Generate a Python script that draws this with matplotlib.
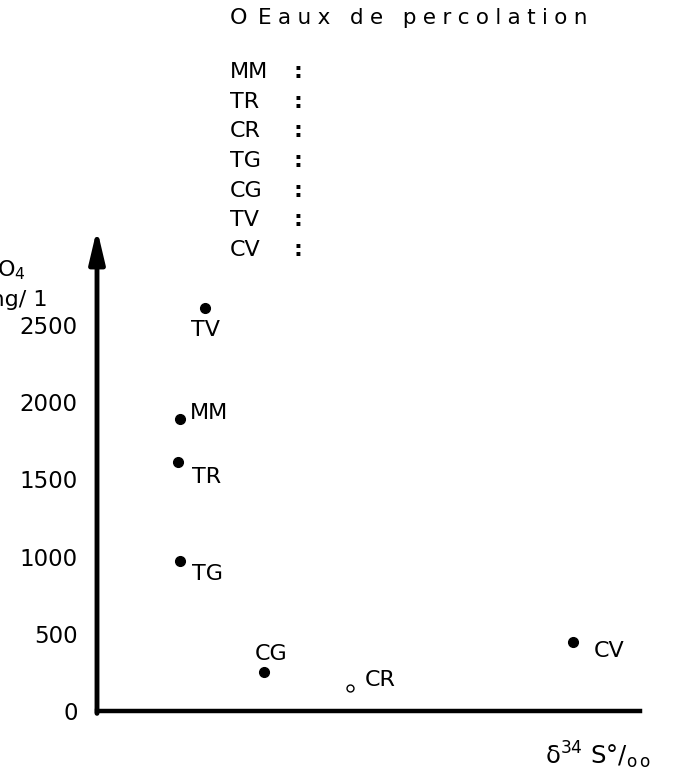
import matplotlib
matplotlib.use("Agg")
import matplotlib.pyplot as plt

# Data (SO4 mg/l vs delta34S, x in arbitrary units since the axis has no ticks)
sites = ["TV", "MM", "TR", "TG", "CG", "CR", "CV"]
d34s = [19.9, 15.3, 14.9, 15.3, 30.8, 46.6, 87.7]
so4 = [2610, 1890, 1610, 970, 250, 150, 445]
open_marker = [False, False, False, False, False, True, False]
yticks = [0, 500, 1000, 1500, 2000, 2500]
legend_sites = ["MM", "TR", "CR", "TG", "CG", "TV", "CV"]

# label offsets in pixels (dx, dy, ha)
offsets = {"TV": (0, -22, "center"), "MM": (10, 6, "left"), "TR": (14, -15, "left"),
           "TG": (12, -13, "left"), "CG": (7, 18, "center"), "CR": (15, 8, "left"),
           "CV": (21, -9, "left")}

W, H = 674, 784
fig = plt.figure(figsize=(W / 100, H / 100), dpi=100)
ax = fig.add_axes([97 / W, (H - 711) / H, (640 - 97) / W, (711 - 237) / H])
FS = 16

ax.set_xlim(0, 100)
ax.set_ylim(0, 3070)
for s in ["top", "right", "left"]:
    ax.spines[s].set_visible(False)
ax.spines["bottom"].set_linewidth(3.2)
ax.set_xticks([])
ax.set_yticks(yticks)
ax.set_yticklabels([str(t) for t in yticks], fontsize=16.5)
ax.tick_params(axis="y", length=0, pad=14)

# y axis with arrow
ax.annotate("", xy=(0, 1.017), xytext=(0, -0.005), xycoords="axes fraction",
            textcoords="axes fraction",
            arrowprops=dict(arrowstyle="-|>,head_length=1.1,head_width=0.26", lw=3.5,
                            color="black", mutation_scale=18, shrinkA=0, shrinkB=0),
            annotation_clip=False)

for name, x, y, op in zip(sites, d34s, so4, open_marker):
    if op:
        ax.plot(x, y, "o", ms=5, mfc="white", mec="black", mew=1, clip_on=False)
    else:
        ax.plot(x, y, "o", ms=7, color="black", clip_on=False)
    dx, dy, ha = offsets[name]
    ax.annotate(name, (x, y), xytext=(dx, dy), textcoords="offset pixels",
                ha=ha, va="center", fontsize=FS)

def ftext(x, y, s, **kw):
    kw.setdefault("fontsize", FS)
    fig.text(x / W, 1 - y / H, s, va="center", **kw)

# legend block
ftext(230, 18, "O")
ftext(258, 18, "\u2009\u200a".join("Eaux de percolation"), fontsize=15.5)
for i, name in enumerate(legend_sites):
    yy = 72 + i * 29.7
    ftext(230, yy, name)
    ftext(294, yy, ":", fontweight="bold")

# y label (partially cut at left edge, as in the source)
ftext(26, 270, "SO$_4$", ha="right")
ftext(47, 300, "mg/ 1", ha="right")

# x label
ftext(545, 755, "δ$^{34}$ S°/$_{\\mathrm{o\\,o}}$", fontsize=17.5)

fig.savefig("out.png", dpi=100)
